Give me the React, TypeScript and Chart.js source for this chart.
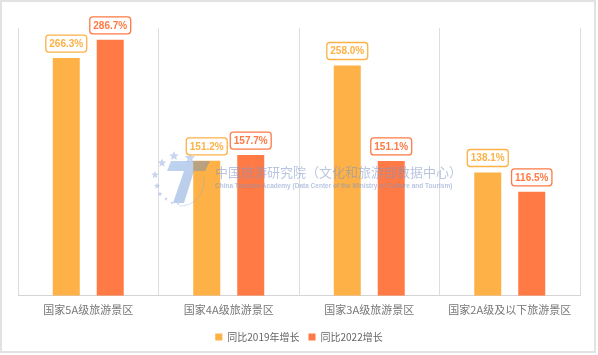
import React, { useEffect, useRef } from "react";
import { Chart, registerables } from "chart.js";

Chart.register(...registerables);

const categories = ["国家5A级旅游景区", "国家4A级旅游景区", "国家3A级旅游景区", "国家2A级及以下旅游景区"];
const growthVs2019 = [266.3, 151.2, 258.0, 138.1];
const growthVs2022 = [286.7, 157.7, 151.1, 116.5];
const seriesNames = ["同比2019年增长", "同比2022增长"];
const watermarkCn = "中国旅游研究院（文化和旅游部数据中心）";
const watermarkEn = "China Tourism Academy (Data Center of the Ministry of Culture and Tourism)";

const YELLOW = "#FDB146";
const RED = "#FF7A45";
const CJK = '"Noto Sans CJK SC", "Noto Sans", sans-serif';

function star(ctx: CanvasRenderingContext2D, cx: number, cy: number, r: number) {
  ctx.beginPath();
  for (let i = 0; i < 10; i++) {
    const a = -Math.PI / 2 + (i * Math.PI) / 5;
    const rr = i % 2 === 0 ? r : r * 0.45;
    const x = cx + rr * Math.cos(a);
    const y = cy + rr * Math.sin(a);
    if (i === 0) ctx.moveTo(x, y);
    else ctx.lineTo(x, y);
  }
  ctx.closePath();
  ctx.fill();
}

const decorPlugin = {
  id: "decor",
  afterDatasetsDraw(chart: any) {
    const ctx: CanvasRenderingContext2D = chart.ctx;
    // watermark
    ctx.save();
    const area = chart.chartArea;
    const cx = (area.left + area.right) / 2;
    const baseX = cx - 84;
    const baseY = 172;
    const ox = baseX - 215;
    ctx.fillStyle = "rgba(130,165,220,0.45)";
    const stars: [number, number, number][] = [
      [162, 163, 4.5], [174, 156, 5], [190, 158, 5.5], [155, 175, 4], [157, 186, 3.2],
      [160, 194, 2.6], [166, 199, 2], [172, 203, 1.8], [178, 204, 1.6],
    ];
    stars.forEach(([x, y, r]) => star(ctx, x + ox, y + (baseY - 172), r));
    // stylised T
    const g = ctx.createLinearGradient(168 + ox, 160, 200 + ox, 205);
    g.addColorStop(0, "rgba(110,160,225,0.45)");
    g.addColorStop(1, "rgba(60,110,190,0.35)");
    ctx.fillStyle = g;
    ctx.beginPath();
    ctx.moveTo(171 + ox, 161);
    ctx.lineTo(210 + ox, 161);
    ctx.lineTo(205 + ox, 171);
    ctx.lineTo(194 + ox, 171);
    ctx.lineTo(184 + ox, 203);
    ctx.lineTo(173 + ox, 203);
    ctx.lineTo(184 + ox, 171);
    ctx.lineTo(167 + ox, 171);
    ctx.closePath();
    ctx.fill();
    ctx.strokeStyle = "rgba(130,170,225,0.35)";
    ctx.lineWidth = 1;
    ctx.beginPath();
    ctx.arc(180 + ox, 182, 24, -0.2, 1.6);
    ctx.stroke();
    ctx.fillStyle = "rgba(125,150,200,0.55)";
    ctx.font = `13px ${CJK}`;
    ctx.textAlign = "left";
    ctx.textBaseline = "middle";
    ctx.fillText(watermarkCn, baseX, baseY);
    ctx.font = 'bold 6.5px "Liberation Sans", Arial, sans-serif';
    ctx.fillText(watermarkEn, baseX, baseY + 14);
    ctx.restore();

    // value labels
    ctx.save();
    chart.data.datasets.forEach((ds: any, i: number) => {
      const meta = chart.getDatasetMeta(i);
      const color = ds.backgroundColor as string;
      meta.data.forEach((bar: any, j: number) => {
        const v = ds.data[j] as number;
        const text = v.toFixed(1) + "%";
        ctx.font = 'bold 10px "Liberation Sans", Arial, sans-serif';
        const w = ctx.measureText(text).width + 7;
        const h = 17;
        const x = bar.x - w / 2;
        const y = bar.y - 6 - h;
        ctx.beginPath();
        ctx.roundRect(x, y, w, h, 3);
        ctx.fillStyle = "#ffffff";
        ctx.fill();
        ctx.lineWidth = 1.3;
        ctx.strokeStyle = color;
        ctx.stroke();
        ctx.fillStyle = color;
        ctx.textAlign = "center";
        ctx.textBaseline = "middle";
        ctx.fillText(text, bar.x, y + h / 2 + 0.5);
      });
    });
    ctx.restore();
  },
  afterDraw(chart: any) {
    const ctx: CanvasRenderingContext2D = chart.ctx;
    ctx.save();
    ctx.strokeStyle = "#e2e2e2";
    ctx.lineWidth = 2;
    ctx.strokeRect(1, 1, 594, 351);
    ctx.restore();
  },
};

export default function App() {
  const ref = useRef<HTMLCanvasElement>(null);
  useEffect(() => {
    document.body.style.margin = "0";
    const chart = new Chart(ref.current!, {
      type: "bar",
      data: {
        labels: categories,
        datasets: [
          { label: seriesNames[0], data: growthVs2019, backgroundColor: YELLOW, categoryPercentage: 0.626, barPercentage: 0.614 },
          { label: seriesNames[1], data: growthVs2022, backgroundColor: RED, categoryPercentage: 0.626, barPercentage: 0.614 },
        ],
      },
      options: {
        responsive: false,
        animation: false,
        devicePixelRatio: 1,
        layout: { padding: { left: 18, right: 18, top: 28, bottom: 3 } },
        scales: {
          x: {
            grid: { color: "#dddddd", lineWidth: 1, drawTicks: false, offset: true },
            border: { display: true, color: "#d4d4d4" },
            ticks: { color: "#777777", font: { size: 11, family: CJK }, padding: 7 },
          },
          y: { display: false, min: 0, max: 300 },
        },
        plugins: {
          legend: {
            position: "bottom",
            labels: { boxWidth: 7, boxHeight: 7, color: "#666666", font: { size: 10, family: CJK }, padding: 9 },
          },
          tooltip: { enabled: false },
        },
      },
      plugins: [decorPlugin],
    });
    return () => chart.destroy();
  }, []);
  return (
    <div style={{ position: "fixed", left: 0, top: 0, width: 598, height: 355, background: "#fff" }}>
      <canvas ref={ref} width={598} height={355} style={{ width: 598, height: 355 }} />
    </div>
  );
}
